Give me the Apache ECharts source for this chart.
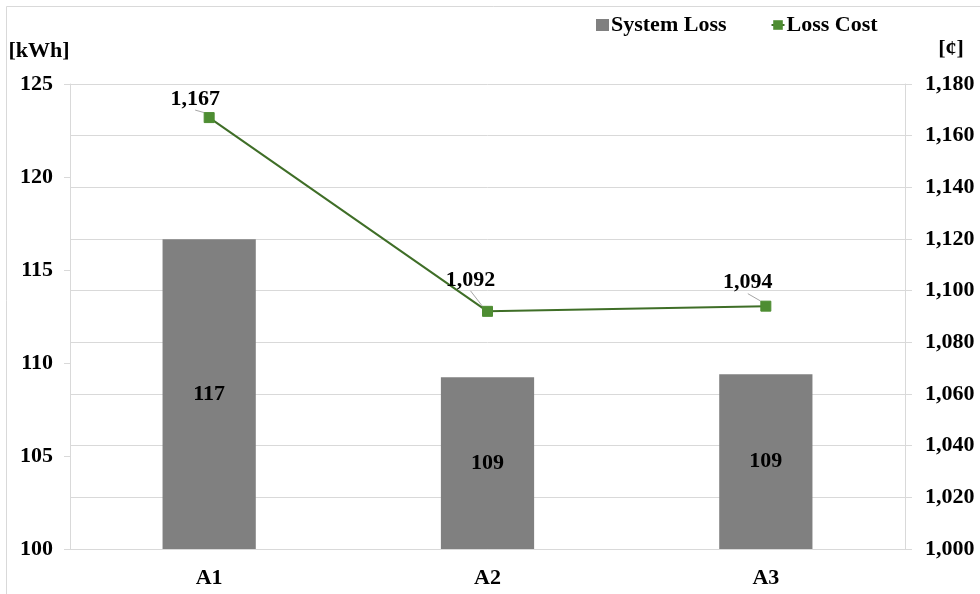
<!DOCTYPE html>
<html>
<head>
<meta charset="utf-8">
<script src="https://cdn.jsdelivr.net/npm/echarts@6/dist/echarts.min.js"></script>
<style>
  html, body { margin: 0; padding: 0; background: #ffffff; }
  #chart { width: 980px; height: 594px; }
</style>
</head>
<body>
<div id="chart"></div>
<script>
// Feeder alternatives and their results
const categories = ['A1', 'A2', 'A3'];
const systemLoss = [116.65, 109.23, 109.39];   // kWh
const lossCost = [1167, 1092, 1094];           // ¢
const leftAxisRange = [100, 125, 5];
const rightAxisRange = [1000, 1180, 20];

const FONT = '"Liberation Serif", "Times New Roman", serif';
const FS = 22;
const GRID_COLOR = '#d9d9d9';
const fmtThousands = v => Math.round(v).toLocaleString('en-US');

// Per-point label offsets for the cost labels (pulled up-left with a leader line)
const costLabelShift = [[-14, -2], [-17, -15], [-18, -7]];

const chart = echarts.init(document.getElementById('chart'));

chart.setOption({
  animation: false,
  backgroundColor: '#ffffff',
  textStyle: { fontFamily: FONT },
  graphic: [{
    type: 'rect',
    shape: { x: 6.5, y: 6.5, width: 990, height: 600 },
    style: { fill: 'none', stroke: GRID_COLOR, lineWidth: 1 },
    silent: true
  }],
  grid: { left: 70, right: 75, top: 84, bottom: 45 },
  legend: {
    top: 9,
    left: 591,
    itemGap: 44,
    itemWidth: 13,
    itemHeight: 12,
    textStyle: { fontFamily: FONT, fontWeight: 'bold', fontSize: FS, color: '#000', padding: [0, 0, 0, -3] },
    data: [
      { name: 'System Loss', icon: 'rect' },
      { name: 'Loss Cost' }
    ]
  },
  xAxis: {
    type: 'category',
    data: categories,
    axisLine: { show: true, lineStyle: { color: GRID_COLOR, width: 1 } },
    axisTick: { show: false },
    axisLabel: { fontFamily: FONT, fontWeight: 'bold', fontSize: FS, color: '#000', margin: 18 }
  },
  yAxis: [
    {
      type: 'value',
      name: '[kWh]',
      nameLocation: 'end',
      nameGap: 22,
      nameTextStyle: { fontFamily: FONT, fontWeight: 'bold', fontSize: FS, color: '#000', align: 'center', padding: [0, 62, 0, 0] },
      min: leftAxisRange[0], max: leftAxisRange[1], interval: leftAxisRange[2],
      axisLine: { show: true, lineStyle: { color: GRID_COLOR } },
      axisTick: { show: true, length: 6, lineStyle: { color: GRID_COLOR } },
      splitLine: { show: false },
      axisLabel: { fontFamily: FONT, fontWeight: 'bold', fontSize: FS, color: '#000', margin: 17 }
    },
    {
      type: 'value',
      name: '[¢]',
      nameLocation: 'end',
      nameGap: 24,
      nameTextStyle: { fontFamily: FONT, fontWeight: 'bold', fontSize: FS, color: '#000', align: 'center', padding: [0, 0, 0, 92] },
      min: rightAxisRange[0], max: rightAxisRange[1], interval: rightAxisRange[2],
      axisLine: { show: true, lineStyle: { color: GRID_COLOR } },
      axisTick: { show: true, length: 7, lineStyle: { color: GRID_COLOR } },
      splitLine: { show: true, lineStyle: { color: GRID_COLOR, width: 1 } },
      axisLabel: { fontFamily: FONT, fontWeight: 'bold', fontSize: FS, color: '#000', margin: 20, formatter: fmtThousands }
    }
  ],
  series: [
    {
      name: 'System Loss',
      type: 'bar',
      yAxisIndex: 0,
      barWidth: '33.5%',
      data: systemLoss,
      itemStyle: { color: '#808080' },
      label: {
        show: true,
        position: 'inside',
        fontFamily: FONT, fontWeight: 'bold', fontSize: FS, color: '#000',
        formatter: p => fmtThousands(p.value)
      }
    },
    {
      name: 'Loss Cost',
      type: 'line',
      yAxisIndex: 1,
      data: lossCost,
      symbol: 'rect',
      symbolSize: 10,
      itemStyle: { color: '#4e8d32', borderColor: '#4e8d32' },
      lineStyle: { color: '#3f6e27', width: 2 },
      label: {
        show: true,
        position: 'top',
        distance: 0,
        fontFamily: FONT, fontWeight: 'bold', fontSize: FS, color: '#000',
        formatter: p => fmtThousands(p.value)
      },
      labelLine: { show: true, lineStyle: { color: '#a6a6a6', width: 1 } },
      labelLayout: p => ({ dx: costLabelShift[p.dataIndex][0], dy: costLabelShift[p.dataIndex][1] })
    }
  ]
});
</script>
</body>
</html>
